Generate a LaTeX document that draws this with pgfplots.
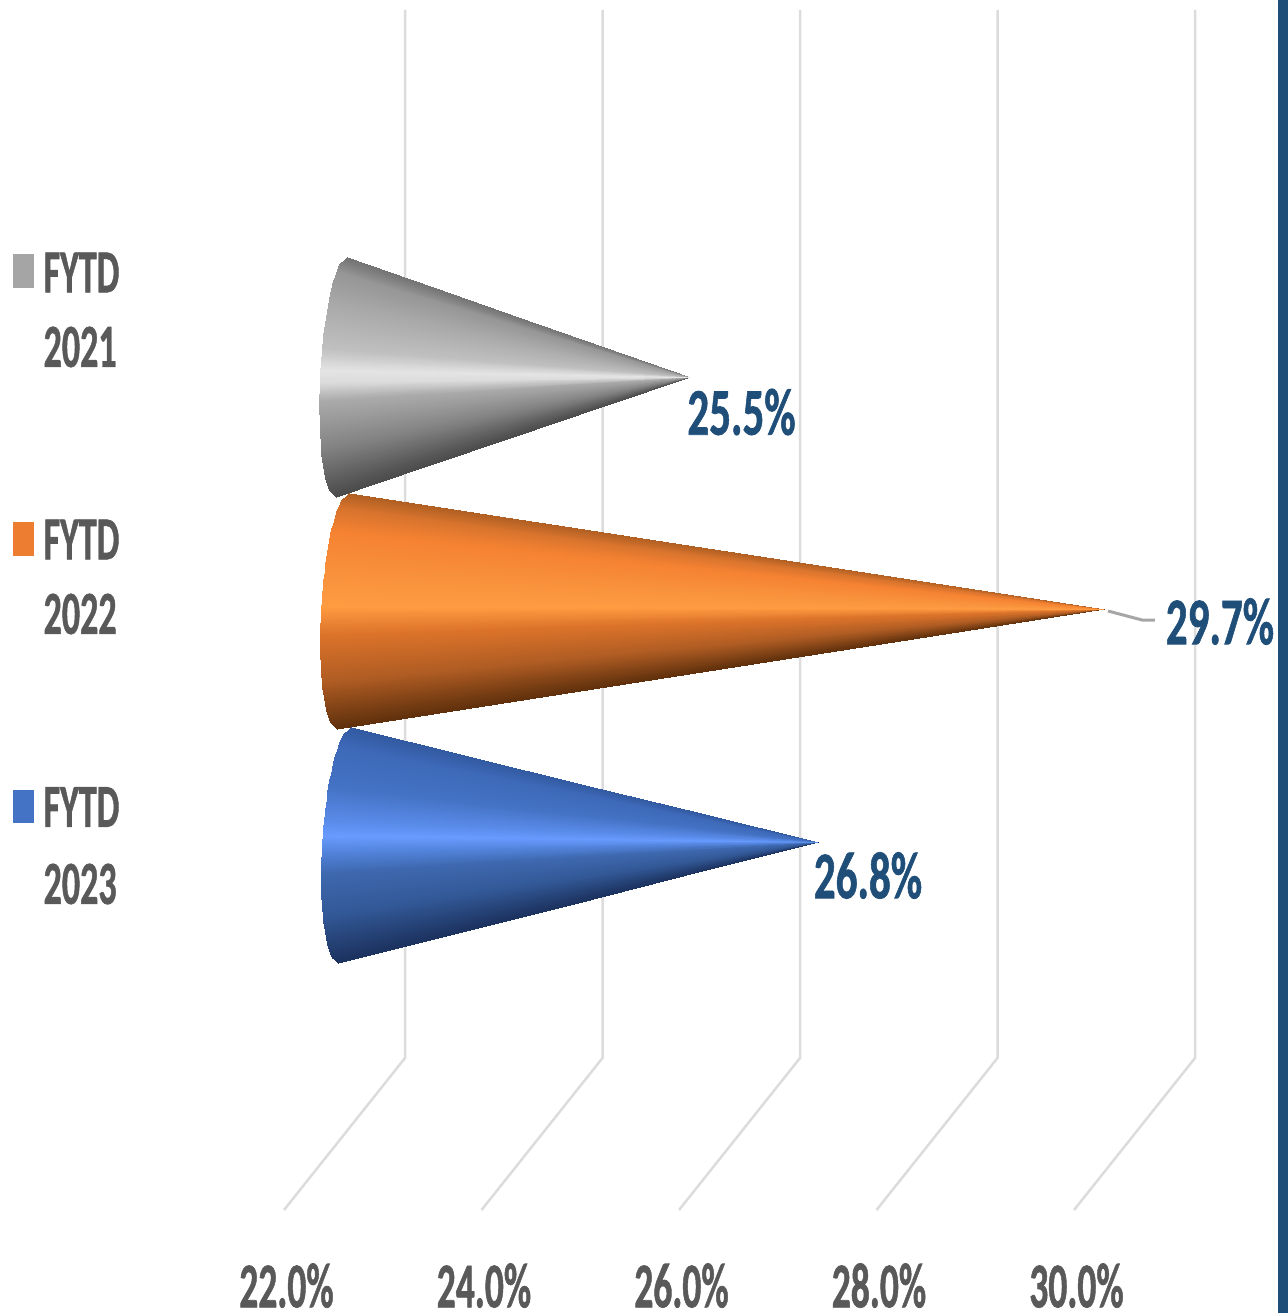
\documentclass[border=0pt]{standalone}
\usepackage{pgfplots}
\usepgfplotslibrary{patchplots}
\pgfplotsset{compat=1.18}
\usepackage{fontspec}
\setmainfont{Carlito}[BoldFeatures={FakeBold=1.2}]
\definecolor{lab}{HTML}{595959}
\definecolor{val}{HTML}{1F4E79}
\definecolor{gridc}{HTML}{DCDCDC}
\newcommand{\tl}[1]{\scalebox{1}[1.7]{\bfseries #1}}
\newcommand{\vl}[1]{\scalebox{1}[1.55]{\bfseries #1}}
\pgfplotsset{
 colormap={cgray}{rgb255(0cm)=(115,115,115) rgb255(6cm)=(150,150,150) rgb255(20cm)=(170,170,170) rgb255(38cm)=(192,192,192) rgb255(47cm)=(228,228,228) rgb255(52cm)=(220,220,220) rgb255(60cm)=(170,170,170) rgb255(80cm)=(130,130,130) rgb255(100cm)=(75,75,75)},
 colormap={corange}{rgb255(0cm)=(175,95,35) rgb255(6cm)=(215,115,45) rgb255(16cm)=(245,130,50) rgb255(40cm)=(250,150,62) rgb255(48cm)=(255,155,65) rgb255(60cm)=(220,115,42) rgb255(80cm)=(175,92,35) rgb255(100cm)=(95,48,12)},
 colormap={cblue}{rgb255(0cm)=(50,90,160) rgb255(8cm)=(62,105,185) rgb255(25cm)=(68,114,196) rgb255(40cm)=(90,140,235) rgb255(46cm)=(105,155,255) rgb255(52cm)=(85,135,225) rgb255(62cm)=(62,104,175) rgb255(80cm)=(50,88,150) rgb255(100cm)=(28,50,95)},
}
\begin{document}
\begin{tikzpicture}
\begin{axis}[
 scale only axis, width=1288pt, height=1313pt,
 xmin=19.1241, xmax=32.167, ymin=0, ymax=1313, y dir=reverse,
 axis line style={draw=none}, major tick length=0pt, tick style={draw=none},
 ytick=\empty, xtick={22,24,26,28,30},
 xticklabels={\tl{22.0\%},\tl{24.0\%},\tl{26.0\%},\tl{28.0\%},\tl{30.0\%}},
 xticklabel style={font=\fontsize{37.5}{37.5}\selectfont, text=lab, anchor=south, yshift=5pt, xshift=2.5pt, inner sep=0pt},
 point meta min=0, point meta max=1,
 every node/.style={inner sep=0pt},
]
% gridlines: front (22..30) to back
\addplot[color=gridc, line width=2.5pt] coordinates {(22,1210) (23.2253,1058) (23.2253,10)};
\addplot[color=gridc, line width=2.5pt] coordinates {(24,1210) (25.2253,1058) (25.2253,10)};
\addplot[color=gridc, line width=2.5pt] coordinates {(26,1210) (27.2253,1058) (27.2253,10)};
\addplot[color=gridc, line width=2.5pt] coordinates {(28,1210) (29.2253,1058) (29.2253,10)};
\addplot[color=gridc, line width=2.5pt] coordinates {(30,1210) (31.2253,1058) (31.2253,10)};
% right rule
\addplot[draw=none, fill=val] coordinates {(32.066,0) (32.167,0) (32.167,1313) (32.066,1313)} --cycle;
% FYTD 2021
\addplot[patch, patch type=rectangle, patch refines=2, shader=interp, colormap name=cgray, point meta=explicit, x filter/.expression={x+0.6076}] table[meta=c] {
x y c
22.030 257.0 0
21.952 264.2 .03
25.5 377 .03
25.5 377 0
21.952 264.2 .03
21.904 276.2 .08
25.5 377 .08
25.5 377 .03
21.904 276.2 .08
21.858 293.0 .15
25.5 377 .15
25.5 377 .08
21.858 293.0 .15
21.814 317.0 .25
25.5 377 .25
25.5 377 .15
21.814 317.0 .25
21.783 341.0 .35
25.5 377 .35
25.5 377 .25
21.783 341.0 .35
21.769 357.8 .42
25.5 377 .42
25.5 377 .35
21.769 357.8 .42
21.759 372.2 .48
25.5 377 .48
25.5 377 .42
21.759 372.2 .48
21.753 386.6 .54
25.5 377 .54
25.5 377 .48
21.753 386.6 .54
21.750 405.8 .62
25.5 377 .62
25.5 377 .54
21.750 405.8 .62
21.755 429.8 .72
25.5 377 .72
25.5 377 .62
21.755 429.8 .72
21.772 453.8 .82
25.5 377 .82
25.5 377 .72
21.772 453.8 .82
21.810 477.8 .92
25.5 377 .92
25.5 377 .82
21.810 477.8 .92
21.848 489.8 .97
25.5 377 .97
25.5 377 .92
21.848 489.8 .97
21.919 497.0 1
25.5 377 1
25.5 377 .97
};
% FYTD 2023
\addplot[patch, patch type=rectangle, patch refines=2, shader=interp, colormap name=cblue, point meta=explicit, x filter/.expression={x+0.6076}] table[meta=c] {
x y c
22.071 727.0 0
21.989 734.1 .03
26.8 842 .03
26.8 842 0
21.989 734.1 .03
21.937 745.9 .08
26.8 842 .08
26.8 842 .03
21.937 745.9 .08
21.889 762.4 .15
26.8 842 .15
26.8 842 .08
21.889 762.4 .15
21.841 786.0 .25
26.8 842 .25
26.8 842 .15
21.841 786.0 .25
21.808 809.6 .35
26.8 842 .35
26.8 842 .25
21.808 809.6 .35
21.790 826.1 .42
26.8 842 .42
26.8 842 .35
21.790 826.1 .42
21.780 840.3 .48
26.8 842 .48
26.8 842 .42
21.780 840.3 .48
21.773 854.4 .54
26.8 842 .54
26.8 842 .48
21.773 854.4 .54
21.768 873.3 .62
26.8 842 .62
26.8 842 .54
21.768 873.3 .62
21.771 896.9 .72
26.8 842 .72
26.8 842 .62
21.771 896.9 .72
21.788 920.5 .82
26.8 842 .82
26.8 842 .72
21.788 920.5 .82
21.826 944.1 .92
26.8 842 .92
26.8 842 .82
21.826 944.1 .92
21.865 955.9 .97
26.8 842 .97
26.8 842 .92
21.865 955.9 .97
21.939 963.0 1
26.8 842 1
26.8 842 .97
};
% FYTD 2022
\addplot[patch, patch type=rectangle, patch refines=2, shader=interp, colormap name=corange, point meta=explicit, x filter/.expression={x+0.6076}] table[meta=c] {
x y c
22.051 493.0 0
21.971 500.1 .03
29.7 609 .03
29.7 609 0
21.971 500.1 .03
21.920 511.9 .08
29.7 609 .08
29.7 609 .03
21.920 511.9 .08
21.873 528.4 .15
29.7 609 .15
29.7 609 .08
21.873 528.4 .15
21.827 552.0 .25
29.7 609 .25
29.7 609 .15
21.827 552.0 .25
21.795 575.6 .35
29.7 609 .35
29.7 609 .25
21.795 575.6 .35
21.779 592.1 .42
29.7 609 .42
29.7 609 .35
21.779 592.1 .42
21.770 606.3 .48
29.7 609 .48
29.7 609 .42
21.770 606.3 .48
21.763 620.4 .54
29.7 609 .54
29.7 609 .48
21.763 620.4 .54
21.759 639.3 .62
29.7 609 .62
29.7 609 .54
21.759 639.3 .62
21.763 662.9 .72
29.7 609 .72
29.7 609 .62
21.763 662.9 .72
21.780 686.5 .82
29.7 609 .82
29.7 609 .72
21.780 686.5 .82
21.818 710.1 .92
29.7 609 .92
29.7 609 .82
21.818 710.1 .92
21.857 721.9 .97
29.7 609 .97
29.7 609 .92
21.857 721.9 .97
21.929 729.0 1
29.7 609 1
29.7 609 .97
};
% leader line
\addplot[color={rgb,255:red,166;green,166;blue,166}, line width=3pt] coordinates {(30.344,611) (30.689,620) (30.820,620)};
% legend squares
\addplot[draw=none, fill={rgb,255:red,165;green,165;blue,165}] coordinates {(19.256,254) (19.468,254) (19.468,288) (19.256,288)} --cycle;
\addplot[draw=none, fill={rgb,255:red,237;green,125;blue,49}] coordinates {(19.256,522) (19.468,522) (19.468,556) (19.256,556)} --cycle;
\addplot[draw=none, fill={rgb,255:red,68;green,114;blue,196}] coordinates {(19.256,790) (19.468,790) (19.468,823) (19.256,823)} --cycle;
% category labels
\node[anchor=west, text=lab, font=\fontsize{36}{36}\selectfont] at (axis cs:19.53,272.5) {\tl{FYTD}};
\node[anchor=west, text=lab, font=\fontsize{36}{36}\selectfont] at (axis cs:19.53,347) {\tl{2021}};
\node[anchor=west, text=lab, font=\fontsize{36}{36}\selectfont] at (axis cs:19.53,539.5) {\tl{FYTD}};
\node[anchor=west, text=lab, font=\fontsize{36}{36}\selectfont] at (axis cs:19.53,614) {\tl{2022}};
\node[anchor=west, text=lab, font=\fontsize{36}{36}\selectfont] at (axis cs:19.53,807) {\tl{FYTD}};
\node[anchor=west, text=lab, font=\fontsize{36}{36}\selectfont] at (axis cs:19.53,884) {\tl{2023}};
% data labels
\node[text=val, font=\fontsize{43}{43}\selectfont] at (axis cs:26.633,412) {\vl{25.5\%}};
\node[text=val, font=\fontsize{43}{43}\selectfont] at (axis cs:31.478,621.5) {\vl{29.7\%}};
\node[text=val, font=\fontsize{43}{43}\selectfont] at (axis cs:27.914,875.5) {\vl{26.8\%}};
\end{axis}
\end{tikzpicture}
\end{document}
